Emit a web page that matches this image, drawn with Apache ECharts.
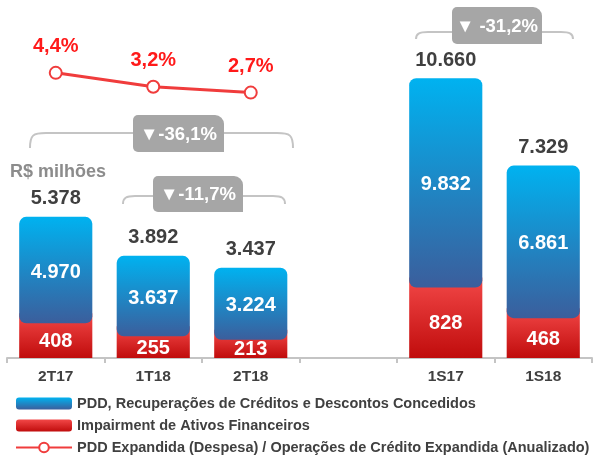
<!DOCTYPE html>
<html>
<head>
<meta charset="utf-8">
<script src="https://cdn.jsdelivr.net/npm/echarts@6/dist/echarts.min.js"></script>
<style>
  html, body { margin: 0; padding: 0; background: #fff; }
  #chart { width: 593px; height: 457px; }
</style>
</head>
<body>
<div id="chart"></div>
<script>
// dados
const categories = ['2T17', '1T18', '2T18', '', '1S17', '1S18']
const totalValues = [5378, 3892, 3437, null, 10660, 7329]
const pddValues = [4970, 3637, 3224, null, 9832, 6861]
const impairmentValues = [408, 255, 213, null, 828, 468]
const ratioValues = [4.4, 3.2, 2.7, null, null, null]
const deltaLabels = ['▼-36,1%', '▼-11,7%', '▼ -31,2%']

const seriesNames = [
    'PDD, Recuperações de Créditos e Descontos Concedidos',
    'Impairment de Ativos Financeiros',
    'PDD Expandida (Despesa) / Operações de Crédito Expandida (Anualizado)'
]

const FONT = '"Liberation Sans", Arial, sans-serif'
const BAR_MAX = 12000
const RED_MAX = 3700

function fmt(v) {
    return String(v).replace(/\B(?=(\d{3})+(?!\d))/g, '.')
}
function pct(v) {
    return v.toFixed(1).replace('.', ',') + '%'
}

function grad(c1, c2) {
    return {type: 'linear', x: 0, y: 0, x2: 0, y2: 1, colorStops: [
        {offset: 0, color: c1},
        {offset: 1, color: c2}
    ]}
}
const blueGrad = grad('#00b2f0', '#3b5e9c')
const redGrad = grad('#f24747', '#c00c0c')

let barData = []
for (let i = 0, l = categories.length; i < l; i++) {
    if (totalValues[i] == null) continue
    barData.push([i, totalValues[i], impairmentValues[i], pddValues[i]])
}

function renderRed(params, api) {
    let i = api.value(0), red = api.value(2)
    let base = api.coord([i, 0])
    let top = api.coord([i, red])
    let w = api.size([1, 0])[0] * 0.75
    return {
        type: 'group',
        children: [{
            type: 'rect',
            shape: {x: base[0] - w / 2, y: top[1] - 10, width: w, height: base[1] - top[1] + 10},
            style: {fill: redGrad}
        }, {
            type: 'text',
            x: base[0], y: (top[1] + base[1]) / 2 + 1,
            style: {text: fmt(red), fill: '#fff', font: 'bold 20px ' + FONT, align: 'center', verticalAlign: 'middle'}
        }]
    }
}

function renderBlue(params, api) {
    let i = api.value(0), total = api.value(1), red = api.value(2), blue = api.value(3)
    let base = api.coord([i, 0])
    let top = api.coord([i, total])
    let full = base[1] - api.coord([i, BAR_MAX])[1]
    // a parte vermelha usa a escala do segundo eixo
    let redTop = base[1] - red / RED_MAX * full
    let w = api.size([1, 0])[0] * 0.75
    return {
        type: 'group',
        children: [{
            type: 'rect',
            shape: {x: base[0] - w / 2, y: top[1], width: w, height: redTop - top[1], r: 7},
            style: {fill: blueGrad}
        }, {
            type: 'text',
            x: base[0], y: (top[1] + redTop) / 2 + 2,
            style: {text: fmt(blue), fill: '#fff', font: 'bold 20px ' + FONT, align: 'center', verticalAlign: 'middle'}
        }, {
            type: 'text',
            x: base[0], y: top[1] - 18,
            style: {text: fmt(total), fill: '#3f3f3f', font: 'bold 20px ' + FONT, align: 'center', verticalAlign: 'middle'}
        }]
    }
}

function badge(x, y, w, h, text) {
    return {
        type: 'group',
        children: [{
            type: 'rect',
            shape: {x: x, y: y, width: w, height: h, r: [5, 9, 0, 5]},
            style: {fill: '#a6a6a6'}
        }, {
            type: 'text',
            x: x + w / 2, y: y + h / 2 + 1,
            style: {text: text, fill: '#fff', font: 'bold 18.5px ' + FONT, align: 'center', verticalAlign: 'middle'}
        }]
    }
}

// chave: curva à esquerda, linha, curva à direita
function brace(x1, x2, y, drop, rad) {
    let st = {stroke: '#c4c4c4', lineWidth: 2, fill: null}
    return {
        type: 'group',
        children: [{
            type: 'bezierCurve',
            shape: {x1: x1, y1: y + drop, cpx1: x1, cpy1: y + 2, cpx2: x1 + 3, cpy2: y, x2: x1 + rad, y2: y},
            style: st
        }, {
            type: 'line',
            shape: {x1: x1 + rad, y1: y, x2: x2 - rad, y2: y},
            style: st
        }, {
            type: 'bezierCurve',
            shape: {x1: x2 - rad, y1: y, cpx1: x2 - 3, cpy1: y, cpx2: x2, cpy2: y + 2, x2: x2, y2: y + drop},
            style: st
        }]
    }
}

let chart = echarts.init(document.getElementById('chart'))

let option = {
    animation: false,
    textStyle: {fontFamily: FONT},
    grid: [
        {left: 7, right: 1, top: 43, bottom: 99},
        {left: 7, right: 1, top: 31, bottom: 333}
    ],
    xAxis: [{
        type: 'category',
        gridIndex: 0,
        data: categories,
        axisLine: {lineStyle: {color: '#c4c4c4', width: 2}},
        axisTick: {show: true, length: 5, lineStyle: {color: '#c4c4c4', width: 2}},
        axisLabel: {fontWeight: 'bold', fontSize: 15.5, color: '#404040', margin: 11, fontFamily: FONT}
    }, {
        type: 'category',
        gridIndex: 1,
        data: categories,
        show: false
    }],
    yAxis: [
        {type: 'value', gridIndex: 0, min: 0, max: BAR_MAX, show: false},
        {type: 'value', gridIndex: 0, min: 0, max: RED_MAX, show: false},
        {type: 'value', gridIndex: 1, min: 0, max: 8, show: false}
    ],
    legend: {
        orient: 'vertical',
        left: 15,
        top: 396,
        height: 100,
        padding: 0,
        itemWidth: 56,
        itemHeight: 12,
        itemGap: 7,
        textStyle: {fontWeight: 'bold', fontSize: 14.5, color: '#404040', fontFamily: FONT},
        data: [
            {name: seriesNames[0], icon: 'roundRect'},
            {name: seriesNames[1], icon: 'roundRect'},
            {name: seriesNames[2]}
        ]
    },
    series: [{
        name: seriesNames[1],
        type: 'custom',
        xAxisIndex: 0,
        yAxisIndex: 1,
        encode: {x: 0, y: 2},
        itemStyle: {color: redGrad},
        renderItem: renderRed,
        data: barData,
        z: 2
    }, {
        name: seriesNames[0],
        type: 'custom',
        xAxisIndex: 0,
        yAxisIndex: 0,
        encode: {x: 0, y: 1},
        itemStyle: {color: blueGrad},
        renderItem: renderBlue,
        data: barData,
        z: 3
    }, {
        name: seriesNames[2],
        type: 'line',
        xAxisIndex: 1,
        yAxisIndex: 2,
        data: ratioValues.map(v => v == null ? '-' : v),
        symbol: 'emptyCircle',
        symbolSize: 12,
        lineStyle: {color: '#f03c3c', width: 3},
        itemStyle: {color: '#f03c3c', borderWidth: 3},
        label: {
            show: true,
            position: 'top',
            distance: 9,
            formatter: p => pct(p.value),
            color: '#ff1a1a',
            fontWeight: 'bold',
            fontSize: 20,
            fontFamily: FONT
        }
    }],
    graphic: [
        brace(30, 293, 133, 15, 16),
        brace(123, 285, 196, 8, 12),
        brace(416, 573, 32, 7, 12),
        badge(133, 115, 91, 37, deltaLabels[0]),
        badge(153, 176, 90, 36, deltaLabels[1]),
        badge(452, 7, 90, 37, deltaLabels[2]),
        {
            type: 'text',
            x: 10, y: 172,
            style: {text: 'R$ milhões', fill: '#8c8c8c', font: 'bold 18px ' + FONT, verticalAlign: 'middle'}
        }
    ]
}

chart.setOption(option)
</script>
</body>
</html>
